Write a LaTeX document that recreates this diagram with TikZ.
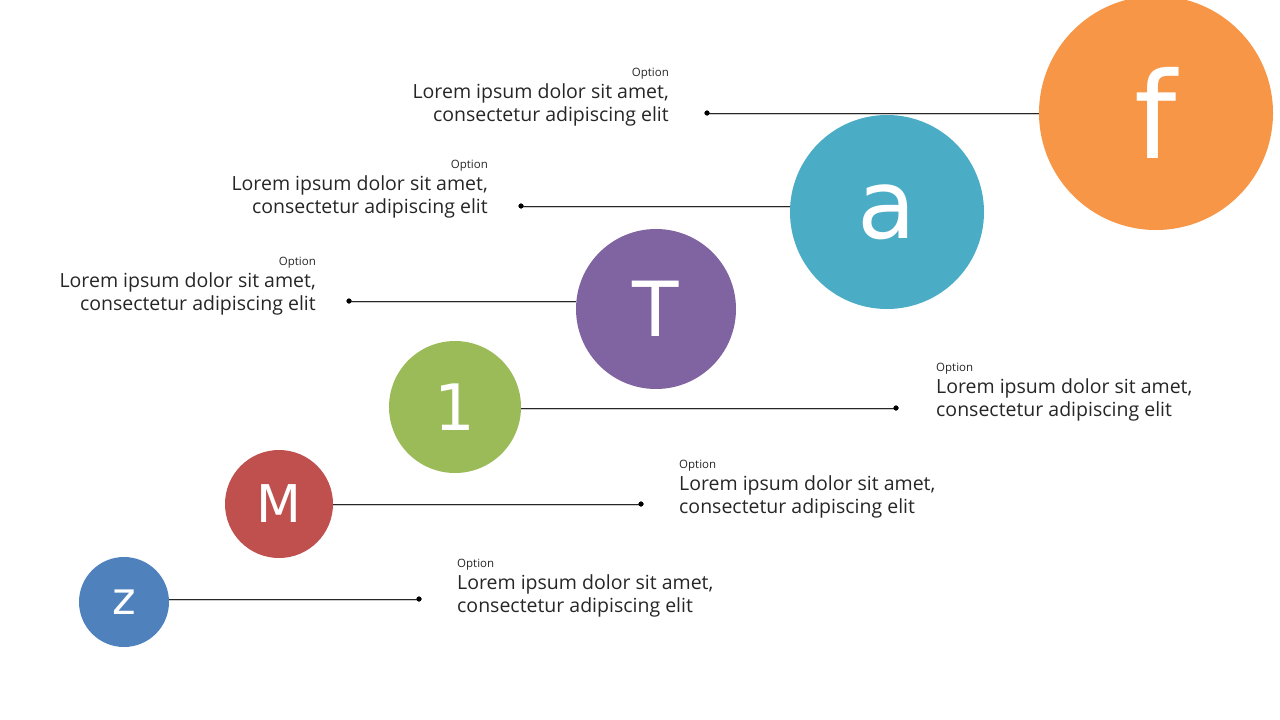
\documentclass[tikz,border=0pt]{standalone}
\usepackage{fontspec}
\setmainfont{Open Sans}
\newfontfamily\letterfont{DejaVu Sans}
\definecolor{cf}{HTML}{F79646}
\definecolor{ca}{HTML}{4BACC6}
\definecolor{cT}{HTML}{8064A2}
\definecolor{cone}{HTML}{9BBB59}
\definecolor{cM}{HTML}{C0504D}
\definecolor{cz}{HTML}{4F81BD}
\definecolor{txt}{HTML}{262626}
\begin{document}
\begin{tikzpicture}[x=1pt,y=-1pt,
  bub/.style={circle,inner sep=0pt,text=white,font=\letterfont},
  conn/.style={line width=0.9pt,draw=black!85},
  shad/.style={line width=1.2pt,draw=black!20},
  dot/.style={circle,fill=black,inner sep=0pt,minimum size=5pt},
  opt/.style={font=\fontsize{11.5}{13}\selectfont,text=txt,inner sep=0pt},
  body/.style={font=\fontsize{19.5}{23}\selectfont,text=txt,inner sep=0pt,align=#1}]
\useasboundingbox (0,0) rectangle (1280,720);
\node[bub,fill=cf,minimum size=234pt,font=\letterfont\fontsize{120}{120}\selectfont] (f) at (1156,113) {f};
\node[bub,fill=ca,minimum size=194pt,font=\letterfont\fontsize{96}{96}\selectfont] (a) at (887,212) {a};
\node[bub,fill=cT,minimum size=160pt,font=\letterfont\fontsize{76}{76}\selectfont] (T) at (656,309) {T};
\node[bub,fill=cone,minimum size=132pt,font=\letterfont\fontsize{64}{64}\selectfont] (one) at (455,407) {1};
\node[bub,fill=cM,minimum size=108pt,font=\letterfont\fontsize{52}{52}\selectfont] (M) at (279,504) {M};
\node[bub,fill=cz,minimum size=90pt,font=\letterfont\fontsize{45}{45}\selectfont] (z) at (124,602) {z};
% dots
\node[dot] (df) at (707,113) {};
\node[dot] (da) at (521,206) {};
\node[dot] (dT) at (349,301) {};
\node[dot] (d1) at (896,408) {};
\node[dot] (dM) at (641,504) {};
\node[dot] (dz) at (419,599) {};
% connectors
\draw[shad] ([yshift=-1.5pt]df.center) -- ([yshift=-1.5pt]f.west);
\draw[conn] (df.center) -- (f.west |- df.center);
\draw[shad] ([yshift=-1.5pt]da.center) -- ([yshift=-1.5pt]a.west |- da.center);
\draw[conn] (da.center) -- (a.west |- da.center);
\draw[shad] ([yshift=-1.5pt]dT.center) -- ([yshift=-1.5pt]T.west |- dT.center);
\draw[conn] (dT.center) -- (T.west |- dT.center);
\draw[shad] ([yshift=-1.5pt]d1.center) -- ([yshift=-1.5pt]one.east |- d1.center);
\draw[conn] (d1.center) -- (one.east |- d1.center);
\draw[shad] ([yshift=-1.5pt]dM.center) -- ([yshift=-1.5pt]M.east |- dM.center);
\draw[conn] (dM.center) -- (M.east |- dM.center);
\draw[shad] ([yshift=-1.5pt]dz.center) -- ([yshift=-1.5pt]z.east |- dz.center);
\draw[conn] (dz.center) -- (z.east |- dz.center);
\node[dot] at (df) {};\node[dot] at (da) {};\node[dot] at (dT) {};
\node[dot] at (d1) {};\node[dot] at (dM) {};\node[dot] at (dz) {};
% texts
\node[opt,anchor=east] (of) at (669,74) {Option};
\node[body=right,anchor=north east] (tf) at (669,83) {Lorem ipsum dolor sit amet,\\consectetur adipiscing elit};
\node[opt,anchor=east] (oa) at (488,166) {Option};
\node[body=right,anchor=north east] (ta) at (488,175) {Lorem ipsum dolor sit amet,\\consectetur adipiscing elit};
\node[opt,anchor=east] (oT) at (316,263) {Option};
\node[body=right,anchor=north east] (tT) at (316,272) {Lorem ipsum dolor sit amet,\\consectetur adipiscing elit};
\node[opt,anchor=west] (o1) at (936,369) {Option};
\node[body=left,anchor=north west] (t1) at (936,378) {Lorem ipsum dolor sit amet,\\consectetur adipiscing elit};
\node[opt,anchor=west] (oM) at (679,466) {Option};
\node[body=left,anchor=north west] (tM) at (679,475) {Lorem ipsum dolor sit amet,\\consectetur adipiscing elit};
\node[opt,anchor=west] (oz) at (457,565) {Option};
\node[body=left,anchor=north west] (tz) at (457,574) {Lorem ipsum dolor sit amet,\\consectetur adipiscing elit};
\end{tikzpicture}
\end{document}
